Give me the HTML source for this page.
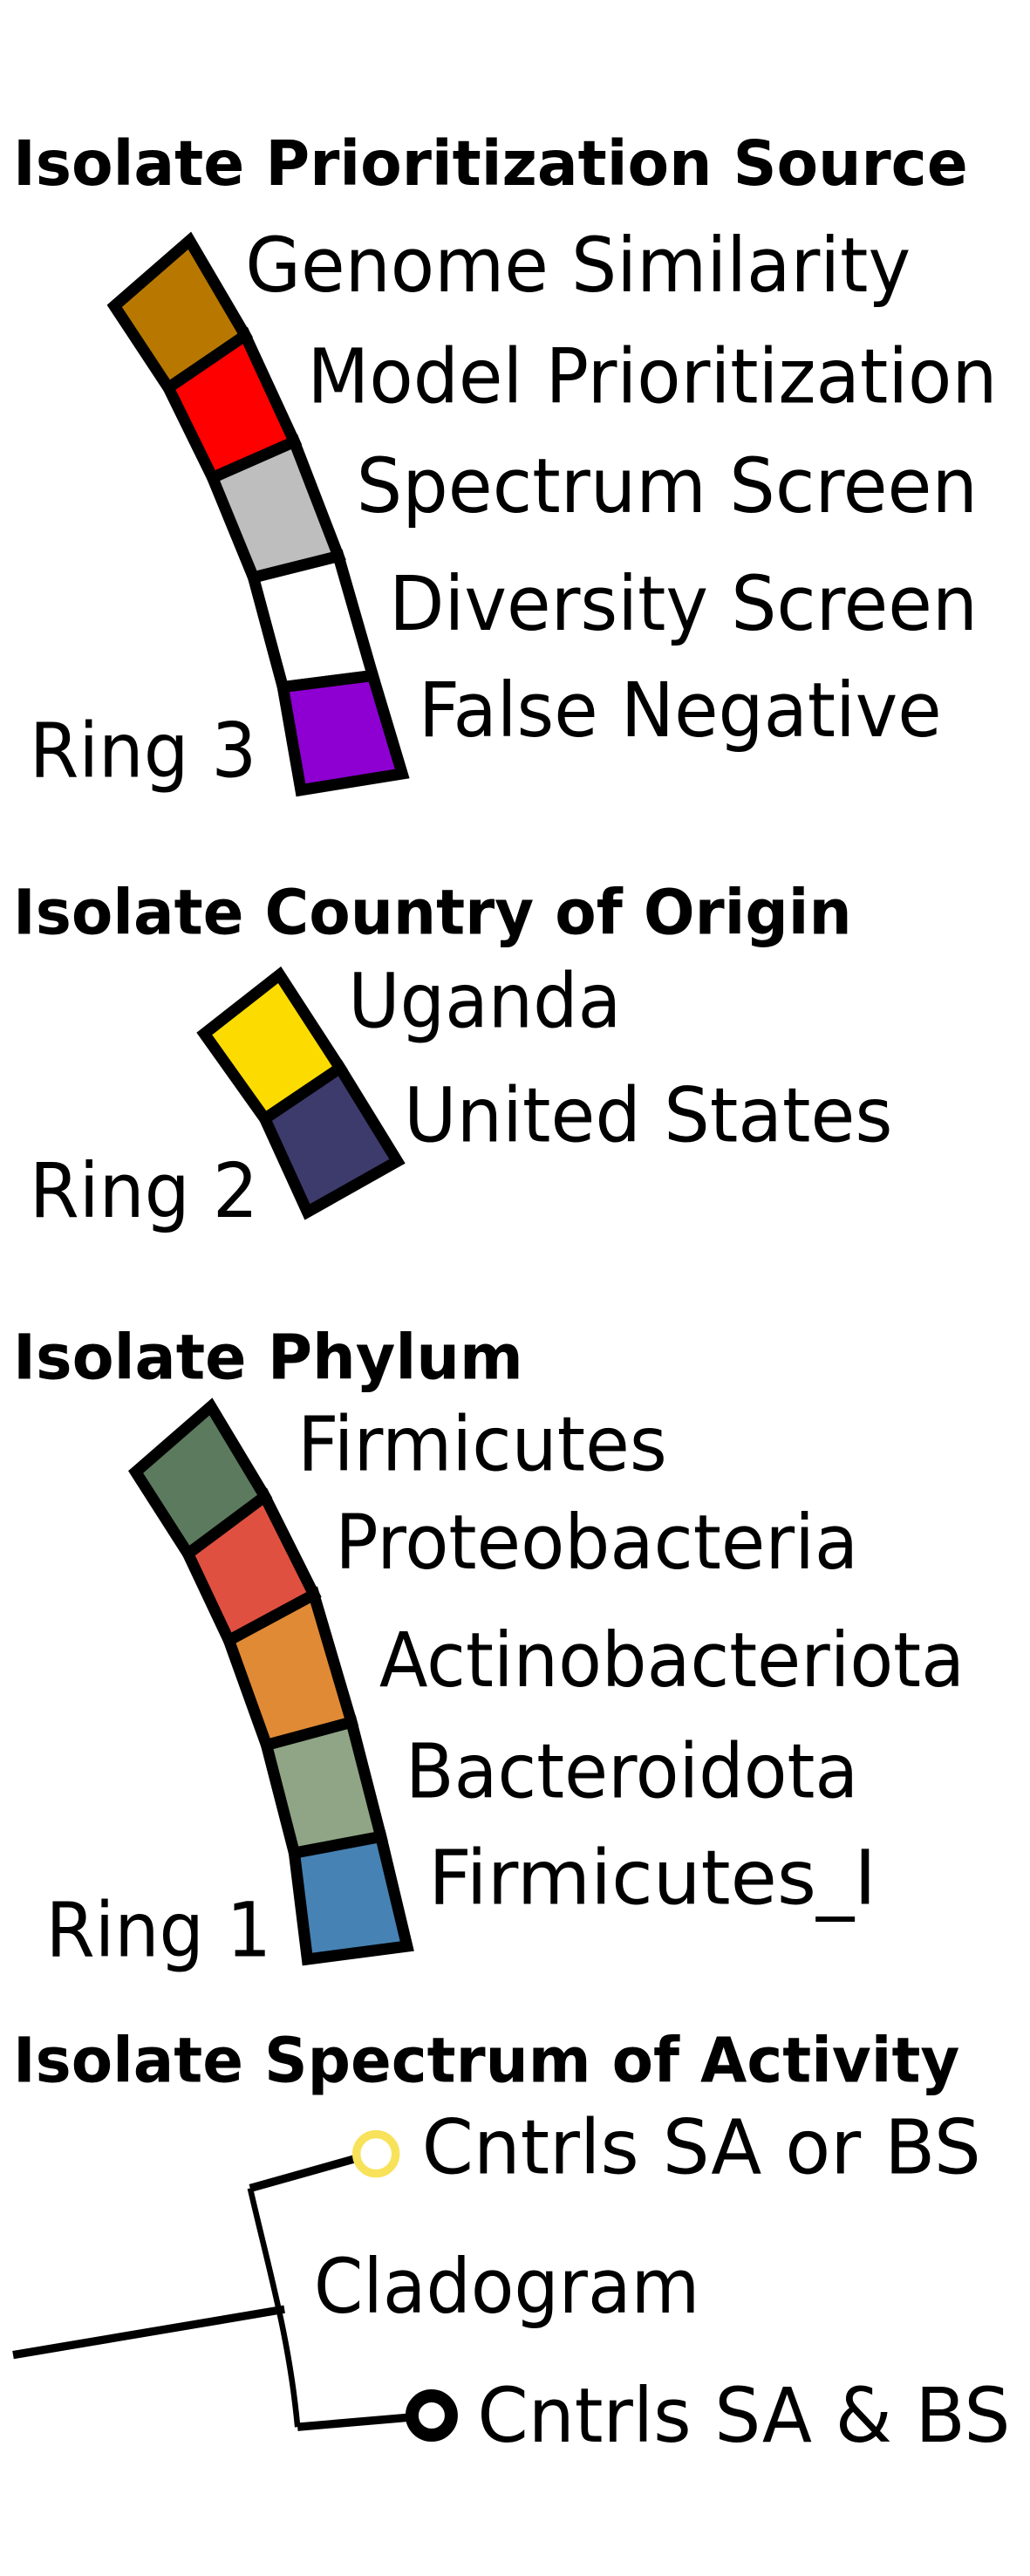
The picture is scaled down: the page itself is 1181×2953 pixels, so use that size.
<!DOCTYPE html>
<html><head><meta charset="utf-8"><style>
html,body{margin:0;padding:0;background:#fff;}
svg{display:block;}
text{font-family:"DejaVu Sans","Liberation Sans",sans-serif;fill:#000;}
.t{font-weight:bold;font-size:38px;}
.l{font-size:46px;}
.seg{stroke:#000;stroke-width:7;stroke-linejoin:miter;}
</style></head><body>
<svg width="1181" height="2953" viewBox="0 0 630 1575" xmlns="http://www.w3.org/2000/svg">
<g>
<text class="t" x="8" y="113" textLength="584" lengthAdjust="spacingAndGlyphs">Isolate Prioritization Source</text>
<polygon class="seg" fill="#B87800" points="70,187 116,147 150,205 103,237"/>
<polygon class="seg" fill="#FF0000" points="103,237 150,205 180,270 130,292"/>
<polygon class="seg" fill="#BEBEBE" points="130,292 180,270 207,340 155,353"/>
<polygon class="seg" fill="#FFFFFF" points="155,353 207,340 228,413 173,420"/>
<polygon class="seg" fill="#8E00D2" points="173,420 228,413 246,473 184,483"/>
<text class="l" x="150" y="178" textLength="407" lengthAdjust="spacingAndGlyphs">Genome Similarity</text>
<text class="l" x="188" y="246" textLength="422" lengthAdjust="spacingAndGlyphs">Model Prioritization</text>
<text class="l" x="218" y="313" textLength="380" lengthAdjust="spacingAndGlyphs">Spectrum Screen</text>
<text class="l" x="238" y="385" textLength="360" lengthAdjust="spacingAndGlyphs">Diversity Screen</text>
<text class="l" x="256" y="450" textLength="320" lengthAdjust="spacingAndGlyphs">False Negative</text>
<text class="l" x="18" y="475" textLength="139" lengthAdjust="spacingAndGlyphs">Ring 3</text>
</g>
<g>
<text class="t" x="8" y="571" textLength="513" lengthAdjust="spacingAndGlyphs">Isolate Country of Origin</text>
<polygon class="seg" fill="#FCDC00" points="125,632 171,596 208,653 162,684"/>
<polygon class="seg" fill="#3D3A6C" points="162,684 208,653 243,710 188,741"/>
<text class="l" x="213" y="628" textLength="167" lengthAdjust="spacingAndGlyphs">Uganda</text>
<text class="l" x="247" y="698" textLength="299" lengthAdjust="spacingAndGlyphs">United States</text>
<text class="l" x="18" y="744" textLength="140" lengthAdjust="spacingAndGlyphs">Ring 2</text>
</g>
<g>
<text class="t" x="8" y="843" textLength="312" lengthAdjust="spacingAndGlyphs">Isolate Phylum</text>
<polygon class="seg" fill="#5C7B5E" points="83,900 129,860 162,915 115,950"/>
<polygon class="seg" fill="#E05040" points="115,950 162,915 192,975 140,1003"/>
<polygon class="seg" fill="#E08A35" points="140,1003 192,975 215,1053 163,1067"/>
<polygon class="seg" fill="#8FA585" points="163,1067 215,1053 233,1123 180,1133"/>
<polygon class="seg" fill="#4682B4" points="180,1133 233,1123 249,1190 188,1198"/>
<text class="l" x="182" y="899" textLength="226" lengthAdjust="spacingAndGlyphs">Firmicutes</text>
<text class="l" x="205" y="959" textLength="320" lengthAdjust="spacingAndGlyphs">Proteobacteria</text>
<text class="l" x="232" y="1031" textLength="358" lengthAdjust="spacingAndGlyphs">Actinobacteriota</text>
<text class="l" x="248" y="1099" textLength="277" lengthAdjust="spacingAndGlyphs">Bacteroidota</text>
<text class="l" x="262" y="1164" textLength="274" lengthAdjust="spacingAndGlyphs">Firmicutes_I</text>
<text class="l" x="28" y="1196" textLength="138" lengthAdjust="spacingAndGlyphs">Ring 1</text>
</g>
<g>
<text class="t" x="8" y="1273" textLength="579" lengthAdjust="spacingAndGlyphs">Isolate Spectrum of Activity</text>
<path d="M8,1440 L174,1412" stroke="#000" stroke-width="5" fill="none"/>
<path d="M153,1338 C165,1390 177,1430 182,1484" stroke="#000" stroke-width="3.5" fill="none"/>
<path d="M153,1338 L217,1320" stroke="#000" stroke-width="5" fill="none"/>
<path d="M182,1484 L252,1478" stroke="#000" stroke-width="5" fill="none"/>
<circle cx="230" cy="1317" r="12" fill="#fff" stroke="#F8E25A" stroke-width="5"/>
<circle cx="264" cy="1477" r="12" fill="#fff" stroke="#000" stroke-width="8"/>
<text class="l" x="258" y="1329" textLength="342" lengthAdjust="spacingAndGlyphs">Cntrls SA or BS</text>
<text class="l" x="192" y="1414" textLength="236" lengthAdjust="spacingAndGlyphs">Cladogram</text>
<text class="l" x="292" y="1493" textLength="326" lengthAdjust="spacingAndGlyphs">Cntrls SA &amp; BS</text>
</g>
</svg>
</body></html>
